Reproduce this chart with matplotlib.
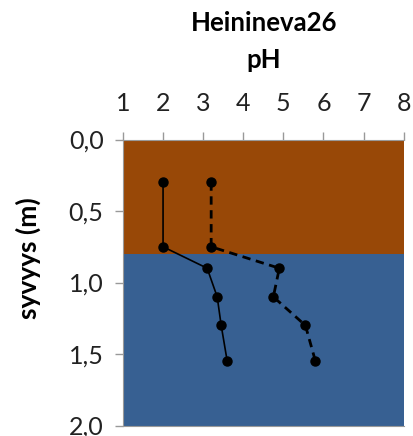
import matplotlib.pyplot as plt

plt.rcParams['font.family'] = ['Lato', 'DejaVu Sans']

# syvyys (m) and pH values of the two profiles
depth = [0.3, 0.75, 0.9, 1.1, 1.3, 1.55]
ph_solid = [2.0, 2.0, 3.1, 3.35, 3.45, 3.6]
ph_dashed = [3.2, 3.2, 4.9, 4.75, 5.55, 5.8]

# soil layers: (top, bottom, colour)
layers = [(0.0, 0.8, '#984807'), (0.8, 2.0, '#376092')]

xticks = [1, 2, 3, 4, 5, 6, 7, 8]
yticks = [0.0, 0.5, 1.0, 1.5, 2.0]
ylabels = ['0,0', '0,5', '1,0', '1,5', '2,0']

fig = plt.figure(figsize=(4.14, 4.36), dpi=100)
ax = fig.add_axes([0.297, 0.024, 0.678, 0.656])

for top, bottom, col in layers:
    ax.axhspan(top, bottom, color=col, lw=0, zorder=0)

ax.plot(ph_solid, depth, color='black', lw=1.2, marker='o', ms=6.5, zorder=3)
ax.plot(ph_dashed, depth, color='black', lw=2, ls=(0, (3, 2)), marker='o', ms=6.5, zorder=3)

ax.set_xlim(1, 8)
ax.set_ylim(2.0, 0.0)
ax.xaxis.tick_top()
ax.set_xticks(xticks)
ax.set_xticklabels([str(t) for t in xticks])
ax.set_yticks(yticks)
ax.set_yticklabels(ylabels)
ax.tick_params(axis='both', labelsize=18, colors='#999999', labelcolor='#222222',
               length=6, width=1, direction='out', pad=8)
ax.tick_params(axis='x', pad=12)

ax.spines['right'].set_visible(False)
for s in ['left', 'top', 'bottom']:
    ax.spines[s].set_color('#999999')

fig.text(0.068, 0.408, 'syvyys (m)', rotation=90, ha='center', va='center',
         fontsize=19, fontweight='bold')
fig.text(0.638, 0.947, 'Heinineva26', ha='center', va='center', fontsize=18.5, fontweight='bold')
fig.text(0.638, 0.862, 'pH', ha='center', va='center', fontsize=18.5, fontweight='bold')

fig.savefig('out.png', dpi=100)
